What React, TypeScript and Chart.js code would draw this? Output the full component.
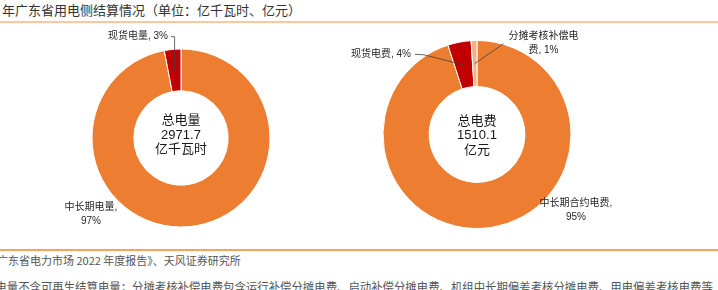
import React, { useEffect, useRef } from 'react';
import { Chart, registerables } from 'chart.js';

Chart.register(...registerables);

const TITLE = '年广东省用电侧结算情况（单位：亿千瓦时、亿元）';
const SOURCE = '《广东省电力市场 2022 年度报告》、天风证券研究所';
const NOTE = '总电量不含可再生结算电量；分摊考核补偿电费包含运行补偿分摊电费、启动补偿分摊电费、机组中长期偏差考核分摊电费、用电偏差考核电费等';

const ENERGY_CATEGORIES = ['中长期电量', '现货电量'];
const ENERGY_SHARES = [97, 3];
const ENERGY_CENTER = ['总电量', '2971.7', '亿千瓦时'];

const FEE_CATEGORIES = ['中长期合约电费', '现货电费', '分摊考核补偿电费'];
const FEE_SHARES = [95, 4, 1];
const FEE_CENTER = ['总电费', '1510.1', '亿元'];

const ORANGE = '#ED7D31';
const RED = '#C00000';
const LIGHT = '#F4B183';
const FONT = '"Liberation Sans", "Noto Sans CJK SC", sans-serif';

type LabelLayout = {
  dx: number;
  dy: number;
  breakAt?: number;
  leader?: 'elbow' | 'kink' | 'direct';
};

const ENERGY_LAYOUT: LabelLayout[] = [
  { dx: -90, dy: 76, breakAt: 6 },
  { dx: -43, dy: -101.3, leader: 'elbow' },
];

const FEE_LAYOUT: LabelLayout[] = [
  { dx: 99, dy: 76.2, breakAt: 8 },
  { dx: -96, dy: -80.2, leader: 'kink' },
  { dx: 66.5, dy: -90.8, breakAt: 7, leader: 'direct' },
];

const donutAnnotations = {
  id: 'donutAnnotations',
  afterDraw(chart: any, _args: any, opts: any) {
    const meta = chart.getDatasetMeta(0);
    if (!meta.data.length) return;
    const first = meta.data[0].getProps(['x', 'y', 'outerRadius', 'innerRadius'], true);
    const cx = first.x;
    const cy = first.y;
    const ctx = chart.ctx;
    ctx.save();
    ctx.textAlign = 'center';
    ctx.textBaseline = 'middle';

    // center text
    ctx.fillStyle = '#1a1a1a';
    ctx.font = `13px ${FONT}`;
    const centerLines: string[] = opts.center;
    const n = centerLines.length;
    centerLines.forEach((t, i) => {
      ctx.fillText(t, cx, cy + opts.centerDy + (i - (n - 1) / 2) * 14.6);
    });

    // segment labels
    const data: number[] = chart.data.datasets[0].data;
    const labels: string[] = chart.data.labels;
    const total = data.reduce((a, b) => a + b, 0);
    ctx.font = `10px ${FONT}`;
    meta.data.forEach((arc: any, i: number) => {
      const L: LabelLayout = opts.layout[i];
      if (!L) return;
      const pct = Math.round((data[i] / total) * 100);
      const full = `${labels[i]}, ${pct}%`;
      const lines = L.breakAt
        ? [full.slice(0, L.breakAt).trim(), full.slice(L.breakAt).trim()]
        : [full];
      const bx = cx + L.dx;
      const by = cy + L.dy;
      ctx.fillStyle = '#262626';
      lines.forEach((t, j) => {
        ctx.fillText(t, bx, by + (j - (lines.length - 1) / 2) * 14);
      });
      if (L.leader) {
        const p = arc.getProps(['startAngle', 'endAngle', 'innerRadius', 'outerRadius'], true);
        const mid = (p.startAngle + p.endAngle) / 2;
        const r = (p.innerRadius + p.outerRadius) / 2;
        const ex = cx + Math.cos(mid) * r;
        const ey = cy + Math.sin(mid) * r;
        const w = Math.max(...lines.map((t) => ctx.measureText(t).width));
        ctx.strokeStyle = '#404040';
        ctx.lineWidth = 0.8;
        ctx.beginPath();
        if (L.leader === 'elbow') {
          const sx = bx + w / 2 + 3;
          ctx.moveTo(sx, by);
          ctx.lineTo(ex, by);
          ctx.lineTo(ex, ey);
        } else if (L.leader === 'kink') {
          const sx = bx + w / 2 + 4;
          ctx.moveTo(sx, by);
          ctx.lineTo(sx + 9, by + 0.5);
          ctx.lineTo(ex, ey);
        } else {
          const sx = bx - w / 2 - 5;
          ctx.moveTo(sx, by);
          ctx.lineTo(ex, ey);
        }
        ctx.stroke();
      }
    });
    ctx.restore();
  },
};

function Donut(props: {
  categories: string[];
  values: number[];
  colors: string[];
  center: string[];
  centerDy: number;
  layout: LabelLayout[];
  cutout: string;
  padding: { top: number; bottom: number; left: number; right: number };
  width: number;
  height: number;
  left: number;
  top: number;
}) {
  const ref = useRef<HTMLCanvasElement | null>(null);
  useEffect(() => {
    if (!ref.current) return;
    const chart = new Chart(ref.current, {
      type: 'doughnut',
      data: {
        labels: props.categories,
        datasets: [
          {
            data: props.values,
            backgroundColor: props.colors,
            borderColor: '#ffffff',
            borderWidth: 1,
          },
        ],
      },
      options: {
        responsive: false,
        animation: false,
        cutout: props.cutout,
        layout: { padding: props.padding },
        plugins: {
          legend: { display: false },
          tooltip: { enabled: false },
          donutAnnotations: {
            center: props.center,
            centerDy: props.centerDy,
            layout: props.layout,
          },
        } as any,
      },
      plugins: [donutAnnotations as any],
    });
    return () => chart.destroy();
  }, []);
  return (
    <canvas
      ref={ref}
      width={props.width}
      height={props.height}
      style={{
        position: 'absolute',
        left: props.left,
        top: props.top,
        width: props.width,
        height: props.height,
      }}
    />
  );
}

export default function App() {
  useEffect(() => {
    document.body.style.margin = '0';
  }, []);
  return (
    <div
      style={{
        position: 'relative',
        width: 718,
        height: 290,
        overflow: 'hidden',
        background: '#ffffff',
        fontFamily: '"Noto Sans CJK SC", sans-serif',
      }}
    >
      <div
        style={{
          position: 'absolute',
          left: 2,
          top: 0,
          fontSize: 13,
          lineHeight: '20px',
          color: '#333333',
          whiteSpace: 'nowrap',
        }}
      >
        {TITLE}
      </div>
      <div
        style={{
          position: 'absolute',
          left: 0,
          top: 21,
          width: 718,
          height: 2,
          background: '#F8C8A2',
        }}
      />
      <Donut
        categories={ENERGY_CATEGORIES}
        values={ENERGY_SHARES}
        colors={[ORANGE, RED]}
        center={ENERGY_CENTER}
        centerDy={-2.7}
        layout={ENERGY_LAYOUT}
        cutout="53%"
        padding={{ top: 24.5, bottom: 20.5, left: 91.5, right: 69.5 }}
        width={340}
        height={224}
        left={0}
        top={24}
      />
      <Donut
        categories={FEE_CATEGORIES}
        values={FEE_SHARES}
        colors={[ORANGE, RED, LIGHT]}
        center={FEE_CENTER}
        centerDy={1.3}
        layout={FEE_LAYOUT}
        cutout="51%"
        padding={{ top: 16, bottom: 19, left: 42.5, right: 146.5 }}
        width={378}
        height={224}
        left={340}
        top={24}
      />
      <div
        style={{
          position: 'absolute',
          left: 0,
          top: 249,
          width: 718,
          height: 2,
          background: '#F0A466',
        }}
      />
      <div
        style={{
          position: 'absolute',
          left: -14,
          top: 253,
          fontSize: 11,
          lineHeight: '14px',
          color: '#555555',
          whiteSpace: 'nowrap',
        }}
      >
        {SOURCE}
      </div>
      <div
        style={{
          position: 'absolute',
          left: -15.75,
          top: 280,
          fontSize: 12,
          lineHeight: '14px',
          color: '#555555',
          whiteSpace: 'nowrap',
          transform: 'scaleX(0.949)',
          transformOrigin: 'left top',
        }}
      >
        {NOTE}
      </div>
    </div>
  );
}
